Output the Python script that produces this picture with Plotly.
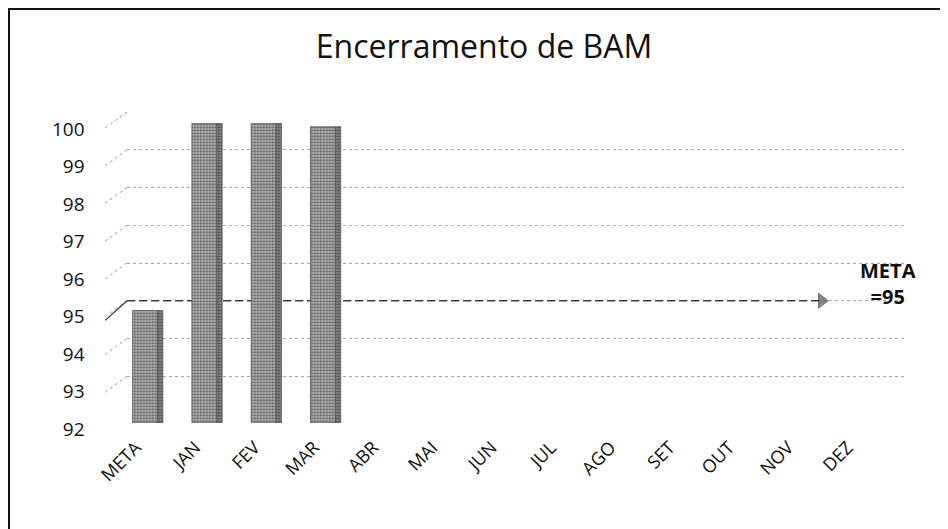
import plotly.graph_objects as go

categories = ["META", "JAN", "FEV", "MAR", "ABR", "MAI", "JUN", "JUL", "AGO", "SET", "OUT", "NOV", "DEZ"]
values = [95, 100, 100, 99.9, None, None, None, None, None, None, None, None, None]
y_ticks = [92, 93, 94, 95, 96, 97, 98, 99, 100]
meta_value = 95
title_text = "Encerramento de BAM"
meta_label = "<b>META<br>=95</b>"

# page body has an 8px margin: the figure starts at (8, 8) in the screenshot
OX, OY = 8, 8
W, H = 940, 521
FONT = "Open Sans"


def fx(px):
    return (px - OX) / W


def fy(py):
    return 1 - (py - OY) / H


heights = [(v - 92) if v is not None else None for v in values]

fig = go.Figure()

# back wall grid subplot (x / y): META reference line with arrow head
fig.add_trace(go.Scatter(
    x=[0, 0.893], y=[meta_value, meta_value], xaxis="x", yaxis="y",
    mode="lines+markers",
    line=dict(color="#3a3a3a", width=1.3, dash="8px,4px"),
    marker=dict(symbol="triangle-right", size=[0, 13], color="#555555",
                line=dict(color="#333", width=1)),
    hoverinfo="skip", showlegend=False,
))

# bars subplot (x2 / y2): front face
fig.add_trace(go.Bar(
    x=categories, y=heights, base=92, xaxis="x2", yaxis="y2",
    width=0.42, offset=-0.21,
    marker=dict(color="#b8b8b8", line=dict(color="#555555", width=0.8),
                pattern=dict(shape=".", fgcolor="#5e5e5e", bgcolor="#bcbcbc",
                             size=3, solidity=0.45)),
    showlegend=False,
))
# bars: darker side face
fig.add_trace(go.Bar(
    x=categories, y=heights, base=92, xaxis="x2", yaxis="y2",
    width=0.09, offset=0.21,
    marker=dict(color="#7c7c7c", line=dict(color="#555555", width=0.8),
                pattern=dict(shape=".", fgcolor="#4a4a4a", bgcolor="#858585",
                             size=3, solidity=0.4)),
    showlegend=False,
))

# slanted connector lines (label -> back wall)
shapes = []
for v in y_ticks:
    shapes.append(dict(type="line", xref="x domain", yref="y",
                       x0=-0.028, y0=v - 0.42, x1=0, y1=v,
                       line=dict(color="#9a9a9a", width=1, dash="dot")))
shapes.append(dict(type="line", xref="x domain", yref="y",
                   x0=-0.028, y0=meta_value - 0.52, x1=0, y1=meta_value,
                   line=dict(color="#3a3a3a", width=1.3)))
# chart frame (left + top)
shapes.append(dict(type="line", xref="paper", yref="paper", x0=fx(9), x1=fx(9),
                   y0=fy(9), y1=0, line=dict(color="#111", width=2)))
shapes.append(dict(type="line", xref="paper", yref="paper", x0=fx(8), x1=1,
                   y0=fy(9), y1=fy(9), line=dict(color="#111", width=2)))

fig.update_layout(
    template="none",
    width=W, height=H, autosize=False,
    margin=dict(l=0, r=0, t=0, b=0, pad=0, autoexpand=False),
    paper_bgcolor="white", plot_bgcolor="rgba(0,0,0,0)",
    font=dict(family=FONT, color="#111"),
    title=dict(text=title_text, x=fx(484), y=fy(47), xanchor="center", yanchor="middle",
               xref="paper", yref="paper", automargin=False,
               font=dict(family=FONT, size=32, color="#111")),
    xaxis=dict(domain=[fx(127), fx(905)], range=[0, 1], showgrid=False, zeroline=False,
               showticklabels=False, showline=False, ticks="", fixedrange=True, automargin=False),
    yaxis=dict(domain=[fy(414), fy(112)], range=[92, 100], tickvals=y_ticks,
               showgrid=True, gridcolor="#a8a8a8", griddash="dot", gridwidth=1,
               zeroline=False, showticklabels=False, showline=False, ticks="",
               fixedrange=True, automargin=False),
    xaxis2=dict(domain=[fx(115.4), fx(886.3)], range=[-0.5, 12.5], type="category",
                categoryorder="array", categoryarray=categories,
                showgrid=False, zeroline=False, showline=False, tickangle=-45,
                ticks="outside", ticklen=6, tickcolor="rgba(0,0,0,0)",
                ticklabelshift=-9,
                tickfont=dict(family=FONT, size=18, color="#111"), anchor="y2",
                automargin=False, fixedrange=True),
    yaxis2=dict(domain=[fy(423), fy(123)], range=[92, 100], tickvals=y_ticks,
                showgrid=False, zeroline=False, showline=False,
                ticks="outside", ticklen=26, tickcolor="rgba(0,0,0,0)",
                ticklabelshift=6,
                tickfont=dict(family=FONT, size=19, color="#111"), anchor="x2",
                automargin=False, fixedrange=True),
    shapes=shapes,
    annotations=[dict(text=meta_label, xref="paper", yref="paper", x=fx(888), y=fy(283),
                      xanchor="center", yanchor="middle", showarrow=False, align="center",
                      font=dict(family=FONT, size=20, color="#111"))],
    barmode="overlay",
)

fig.write_html("out.html")
